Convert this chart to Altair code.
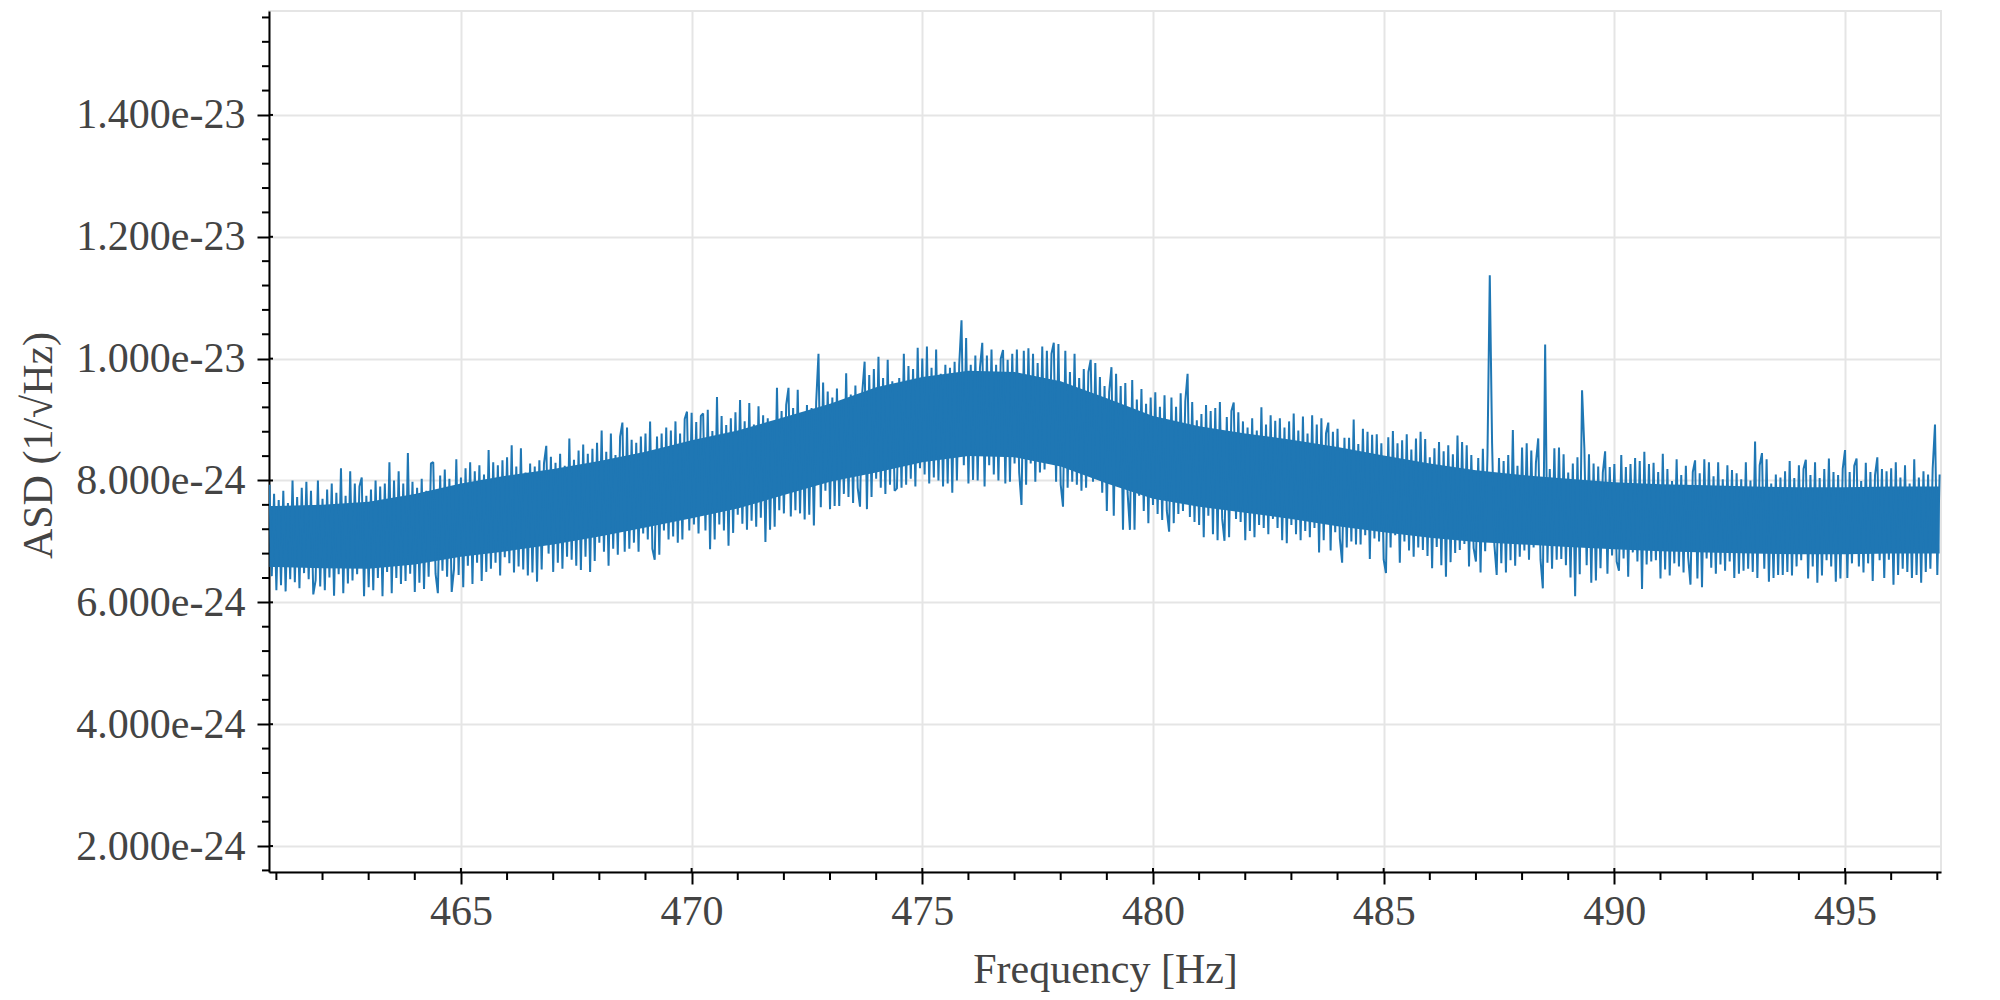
import altair as alt
import pandas as pd

# Frequency grid of the spectrum (evenly spaced FFT bins)
FREQ_START = 460.85   # Hz
FREQ_STEP = 0.05      # Hz

# ASD samples (the ragged fringe of the noisy trace and
# its spikes), in units of 1e-24 / sqrt(Hz)
asd_461_465 = [
    7.93, 6.43, 7.78, 6.2, 7.68, 6.28, 7.83, 6.18, 7.63, 6.38, 8.0, 6.33, 7.73, 6.23, 7.88, 6.48, 7.98, 6.38, 7.83, 6.13,
    6.36, 8.0, 6.26, 7.7, 6.2, 7.85, 6.41, 7.95, 6.11, 7.8, 6.46, 8.2, 6.15, 7.75, 6.31, 8.15, 6.36, 7.95, 6.46, 7.9,
    8.05, 6.1, 7.75, 6.25, 7.85, 6.2, 8.0, 6.4, 7.9, 6.1, 7.95, 6.5, 8.3, 6.15, 8.0, 6.4, 8.15, 6.3, 7.95, 6.35,
    8.45, 6.47, 7.98, 6.17, 7.88, 6.32, 8.03, 6.22, 7.83, 6.42, 8.28, 8.3, 6.47, 6.15, 8.08, 6.52, 8.18, 6.42, 8.03, 6.17,
    6.55, 8.35, 6.45, 8.05, 6.25, 8.2, 6.6, 8.3, 6.3, 8.15, 6.65, 8.25, 6.35, 8.1, 6.5, 8.5, 6.55, 8.3, 6.65, 8.25,
]
asd_466_470 = [
    6.44, 8.33, 6.74, 8.38, 6.64, 8.58, 6.49, 8.23, 6.59, 8.53, 6.54, 8.13, 6.44, 8.28, 6.49, 8.23, 6.34, 8.33, 6.54, 8.28,
    8.57, 6.8, 8.39, 6.5, 8.29, 6.65, 8.44, 6.55, 8.24, 6.75, 8.69, 6.7, 8.34, 6.6, 8.49, 6.53, 8.59, 6.75, 8.44, 6.5,
    8.52, 6.68, 8.62, 6.98, 8.82, 6.83, 8.47, 6.6, 8.77, 6.88, 8.42, 6.78, 8.72, 8.95, 6.83, 8.87, 6.88, 8.67, 6.98, 8.62,
    6.83, 8.72, 7.13, 8.77, 7.03, 8.97, 6.88, 6.7, 8.72, 6.78, 8.77, 7.18, 8.87, 7.03, 8.82, 7.08, 8.97, 6.98, 8.77, 7.03,
    9.01, 9.13, 7.18, 9.11, 7.28, 8.96, 7.13, 9.06, 9.1, 7.18, 9.16, 6.87, 8.81, 7.03, 9.37, 7.28, 9.06, 7.18, 8.91, 6.93,
]
asd_471_475 = [
    9.02, 7.14, 9.12, 7.44, 9.32, 7.29, 8.97, 7.19, 9.27, 7.34, 8.92, 7.24, 9.22, 7.39, 9.07, 6.99, 9.02, 7.19, 8.92, 7.24,
    9.52, 7.51, 9.14, 7.46, 9.24, 9.52, 7.41, 9.19, 7.51, 9.49, 7.46, 9.09, 7.36, 9.24, 7.44, 9.19, 7.26, 9.29, 10.08, 7.56,
    9.61, 7.83, 9.46, 7.53, 9.36, 7.58, 9.51, 7.58, 9.31, 7.78, 9.76, 7.73, 9.41, 7.63, 9.56, 7.88, 7.57, 9.46, 9.95, 7.53,
    9.73, 7.73, 9.83, 8.03, 10.03, 7.88, 9.68, 7.78, 9.98, 7.93, 9.63, 7.83, 7.87, 9.68, 7.88, 10.08, 7.93, 9.88, 8.03, 9.83,
    7.9, 10.18, 8.2, 10.0, 8.1, 10.2, 7.95, 9.85, 8.05, 10.15, 8.0, 9.75, 7.9, 9.9, 7.95, 9.85, 7.8, 9.95, 8.0, 9.9,
]
asd_476_480 = [
    10.63, 8.25, 10.34, 7.95, 9.9, 8.01, 10.05, 8.0, 9.85, 10.26, 7.9, 10.05, 8.25, 10.15, 8.1, 9.9, 8.0, 10.0, 10.14, 7.95,
    9.98, 7.98, 10.08, 8.28, 10.15, 8.13, 7.6, 10.13, 7.93, 10.17, 8.28, 10.08, 7.98, 9.93, 8.13, 10.2, 8.18, 10.13, 8.28, 10.08,
    10.26, 7.98, 10.24, 7.93, 7.57, 10.13, 7.88, 9.78, 7.98, 10.08, 7.93, 9.68, 7.83, 9.83, 7.88, 9.78, 9.98, 7.98, 9.93, 8.03,
    9.7, 7.8, 9.55, 7.5, 9.45, 9.86, 7.42, 9.75, 7.9, 9.55, 7.19, 9.6, 7.8, 7.19, 9.65, 7.19, 9.33, 7.75, 9.5, 7.5,
    9.26, 7.3, 9.36, 7.6, 9.45, 7.45, 9.21, 7.35, 9.4, 7.5, 7.16, 9.36, 7.3, 9.21, 7.45, 9.43, 7.5, 9.3, 9.75, 7.4,
]
asd_481_485 = [
    9.29, 7.32, 8.99, 7.27, 9.09, 7.07, 9.24, 7.42, 9.14, 7.12, 9.19, 7.02, 9.29, 7.37, 7.01, 9.04, 7.07, 9.14, 9.28, 7.37,
    9.12, 7.32, 8.97, 7.02, 8.87, 7.17, 9.02, 7.07, 8.82, 7.27, 9.2, 7.22, 8.92, 7.12, 9.07, 7.37, 8.98, 7.22, 9.02, 7.02,
    8.87, 6.97, 8.97, 7.27, 9.1, 7.12, 8.82, 7.02, 9.05, 7.17, 8.77, 7.07, 9.07, 7.22, 8.92, 6.82, 9.02, 7.02, 8.77, 8.95,
    6.85, 8.8, 7.15, 8.85, 7.05, 6.65, 8.7, 6.9, 8.7, 7.0, 9.0, 6.95, 8.6, 6.95, 8.85, 7.1, 8.8, 6.71, 8.75, 7.05,
    8.76, 7.0, 8.61, 6.7, 6.48, 8.71, 6.9, 8.81, 7.1, 8.61, 6.65, 8.66, 7.0, 8.76, 6.85, 8.51, 6.75, 8.69, 6.9, 8.8,
]
asd_486_490 = [
    6.86, 8.68, 6.76, 8.38, 6.56, 8.53, 6.91, 8.63, 6.61, 8.48, 6.42, 8.58, 6.66, 8.43, 6.81, 8.74, 6.86, 8.63, 6.96, 8.58,
    6.59, 8.42, 6.89, 6.67, 8.37, 6.49, 8.52, 6.84, 8.42, 11.37, 8.61, 6.94, 6.45, 8.37, 6.64, 8.32, 6.49, 8.42, 6.69, 8.83,
    6.6, 8.24, 6.75, 8.54, 6.85, 8.61, 6.7, 8.49, 6.9, 8.29, 8.69, 6.7, 6.23, 10.23, 6.65, 8.19, 6.55, 8.53, 6.7, 8.54,
    6.71, 8.43, 6.61, 8.13, 6.41, 8.28, 6.1, 8.38, 6.46, 9.48, 8.53, 6.61, 8.43, 6.32, 8.28, 6.36, 8.23, 6.56, 8.13, 8.48,
    6.47, 8.22, 6.77, 8.27, 6.67, 6.52, 8.42, 6.72, 8.22, 6.42, 8.27, 6.82, 8.37, 6.67, 8.32, 6.22, 8.47, 6.62, 8.27, 6.67,
]
asd_491_497 = [
    8.29, 6.69, 8.14, 6.39, 8.44, 6.54, 8.19, 6.44, 7.99, 6.64, 8.35, 6.59, 8.09, 6.49, 8.24, 6.74, 6.29, 8.14, 8.33, 6.39,
    8.12, 6.25, 8.35, 6.72, 8.3, 6.57, 8.07, 6.47, 8.3, 6.62, 8.02, 6.52, 8.25, 6.67, 8.17, 6.4, 8.12, 6.47, 8.02, 6.52,
    8.3, 6.55, 8.0, 6.5, 8.64, 6.4, 8.25, 8.45, 6.55, 8.35, 6.34, 7.95, 6.4, 8.1, 6.45, 8.05, 6.45, 8.15, 6.5, 8.32,
    6.44, 8.04, 6.59, 8.25, 6.69, 8.19, 8.34, 6.39, 8.09, 6.59, 8.3, 6.32, 8.04, 6.44, 8.19, 6.69, 8.36, 6.59, 8.14, 6.34,
    8.09, 6.39, 8.19, 8.5, 6.4, 8.14, 6.64, 8.24, 8.36, 6.59, 7.99, 6.49, 8.29, 6.64, 8.14, 6.35, 8.09, 8.38, 6.69, 8.19,
    6.4, 8.15, 6.7, 8.2, 6.29, 8.3, 6.45, 8.05, 6.55, 8.25, 6.5, 7.95, 6.4, 8.35, 6.45, 8.05, 6.32, 8.15, 6.5, 8.1,
    6.55, 8.2, 8.92, 6.45, 8.1,
]

# Dense (solid) core of the trace, read at whole-Hz points, units of 1e-24
core_freq = [460.85, 461, 462, 463, 464, 465, 466, 467, 468, 469, 470, 471, 472, 473,
             474, 475, 476, 477, 478, 479, 480, 481, 482, 483, 484, 485, 486, 487,
             488, 489, 490, 491, 492, 493, 494, 495, 496, 497, 497.05]
core_low = [6.58, 6.58, 6.56, 6.55, 6.62, 6.75, 6.84, 6.95, 7.08, 7.23, 7.38, 7.54, 7.76, 7.98,
            8.13, 8.30, 8.40, 8.38, 8.23, 7.95, 7.70, 7.57, 7.47, 7.37, 7.25, 7.15, 7.06, 6.99,
            6.95, 6.91, 6.87, 6.84, 6.82, 6.80, 6.79, 6.79, 6.80, 6.80, 6.80]
core_high = [7.58, 7.58, 7.60, 7.65, 7.78, 7.95, 8.08, 8.19, 8.32, 8.47, 8.66, 8.82, 9.04, 9.26,
             9.53, 9.70, 9.80, 9.78, 9.63, 9.35, 9.06, 8.89, 8.77, 8.67, 8.55, 8.41, 8.28, 8.17,
             8.09, 8.03, 7.97, 7.94, 7.92, 7.90, 7.89, 7.89, 7.90, 7.90, 7.90]

asd_e24 = (asd_461_465 + asd_466_470 + asd_471_475 + asd_476_480
           + asd_481_485 + asd_486_490 + asd_491_497)
freq = [round(FREQ_START + FREQ_STEP * i, 2) for i in range(len(asd_e24))]
df = pd.DataFrame({"freq": freq, "asd": [v * 1e-24 for v in asd_e24]})
core_df = pd.DataFrame({"freq": core_freq,
                        "lo": [v * 1e-24 for v in core_low],
                        "hi": [v * 1e-24 for v in core_high]})

# Axes
x_domain = [460.84, 497.08]
y_domain = [1.574e-24, 1.5706e-23]
x_ticks = [465, 470, 475, 480, 485, 490, 495]
x_minor = [v for v in range(461, 498) if v % 5 != 0]
y_ticks = [2e-24, 4e-24, 6e-24, 8e-24, 1e-23, 1.2e-23, 1.4e-23]
y_minor = [round(1.6 + 0.4 * k, 1) * 1e-24 for k in range(36)
           if round((1.6 + 0.4 * k) * 10) % 20 != 0]

W, H = 1672, 861
FONT = "Liberation Serif"
TXT = "#444444"
BLUE = "#1f77b4"

xscale = alt.Scale(domain=x_domain, nice=False, zero=False)
yscale = alt.Scale(domain=y_domain, nice=False, zero=False)

common_axis = dict(
    domainColor="black", domainWidth=2,
    tickColor="black", tickWidth=2, tickSize=12,
    labelFont=FONT, labelFontSize=42, labelColor=TXT,
    grid=True, gridColor="#e5e5e5", gridWidth=2,
    titleFont=FONT, titleFontSize=42, titleFontWeight="normal", titleColor=TXT,
    labelFlush=False, labelOverlap=False,
)
x_axis = alt.Axis(values=x_ticks, format="d", title="Frequency [Hz]",
                  labelPadding=7, titleBaseline="alphabetic", titleY=110,
                  **common_axis)
y_axis = alt.Axis(values=y_ticks, format=".3e", title="ASD (1/√Hz)",
                  labelPadding=12, titleBaseline="alphabetic",
                  titleAlign="center", titleX=-218, titleY=434,
                  **common_axis)

core = alt.Chart(core_df).mark_area(color=BLUE, opacity=1, clip=True).encode(
    x=alt.X("freq:Q", scale=xscale, axis=x_axis),
    y=alt.Y("lo:Q", scale=yscale, axis=y_axis),
    y2="hi:Q",
)

line = alt.Chart(df).mark_line(
    color=BLUE, strokeWidth=2, strokeJoin="bevel", clip=True
).encode(
    x=alt.X("freq:Q", scale=xscale, axis=x_axis),
    y=alt.Y("asd:Q", scale=yscale, axis=y_axis),
)

xminor = alt.Chart(pd.DataFrame({"freq": x_minor})).mark_rule(
    color="black", strokeWidth=2
).encode(x=alt.X("freq:Q", scale=xscale, axis=x_axis),
         y=alt.value(H), y2=alt.value(H + 8))

xmajor_in = alt.Chart(pd.DataFrame({"freq": x_ticks})).mark_rule(
    color="black", strokeWidth=2
).encode(x=alt.X("freq:Q", scale=xscale, axis=x_axis),
         y=alt.value(H - 4), y2=alt.value(H))

yminor = alt.Chart(pd.DataFrame({"asd": y_minor})).mark_rule(
    color="black", strokeWidth=2
).encode(y=alt.Y("asd:Q", scale=yscale, axis=y_axis),
         x=alt.value(0), x2=alt.value(-7))

ymajor_in = alt.Chart(pd.DataFrame({"asd": y_ticks})).mark_rule(
    color="black", strokeWidth=2
).encode(y=alt.Y("asd:Q", scale=yscale, axis=y_axis),
         x=alt.value(0), x2=alt.value(4))

chart = alt.layer(core, line, xminor, xmajor_in, yminor, ymajor_in).properties(
    width=W, height=H,
    autosize=alt.AutoSizeParams(type="none"),
    padding={"left": 261, "top": 3, "right": 30, "bottom": 120},
).configure_view(stroke="#e5e5e5", strokeWidth=2)

chart.save("out.html", embed_options={"renderer": "svg", "actions": False})
